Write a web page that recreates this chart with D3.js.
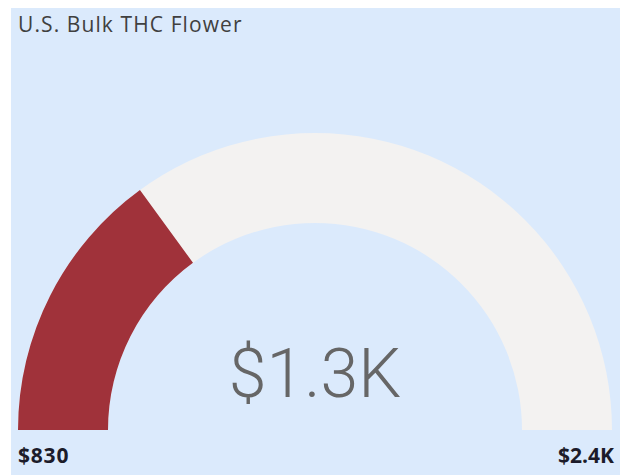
<!DOCTYPE html>
<html><head><meta charset="utf-8">
<script src="https://cdn.jsdelivr.net/npm/d3@7"></script>
<style>body{margin:0;background:#fff}svg{display:block}</style>
</head><body>
<svg id="c" width="620" height="475"></svg>
<script>
const title = "U.S. Bulk THC Flower";
const gaugeMin = [830];
const gaugeMax = [2400];
const gaugeValue = [1300];
const minLabel = ["$830"];
const maxLabel = ["$2.4K"];
const valueLabel = ["$1.3K"];

const svg = d3.select("#c");
svg.append("rect").attr("x",11).attr("y",8).attr("width",609).attr("height",467).attr("fill","#dbeafc");
svg.append("text").attr("x",18).attr("y",32).text(title)
  .attr("font-family","'Open Sans', sans-serif").attr("font-size",21).attr("letter-spacing",1.1).attr("fill","#404040");

const cx = 315, cy = 430, outerR = 297, innerR = 207;
const angle = d3.scaleLinear().domain([gaugeMin[0], gaugeMax[0]]).range([-Math.PI/2, Math.PI/2]);
const arc = d3.arc().innerRadius(innerR).outerRadius(outerR);
const g = svg.append("g").attr("transform",`translate(${cx},${cy})`);
g.append("path").attr("d", arc({startAngle: angle(gaugeMin[0]), endAngle: angle(gaugeMax[0])})).attr("fill","#f3f2f1");
g.append("path").attr("d", arc({startAngle: angle(gaugeMin[0]), endAngle: angle(gaugeValue[0])})).attr("fill","#a0323a");

g.append("text").attr("x",0).attr("y",-33).attr("text-anchor","middle").text(valueLabel[0])
  .attr("font-family","Roboto, sans-serif").attr("font-weight",300).attr("font-size",68).attr("fill","#666");

svg.append("text").attr("x",18).attr("y",463).text(minLabel[0])
  .attr("font-family","'Open Sans', sans-serif").attr("font-weight",700).attr("font-size",21).attr("letter-spacing",0.8).attr("fill","#1c1c2a");
svg.append("text").attr("x",614).attr("y",463).attr("text-anchor","end").text(maxLabel[0])
  .attr("font-family","'Open Sans', sans-serif").attr("font-weight",700).attr("font-size",21).attr("fill","#1c1c2a");
</script>
</body></html>
